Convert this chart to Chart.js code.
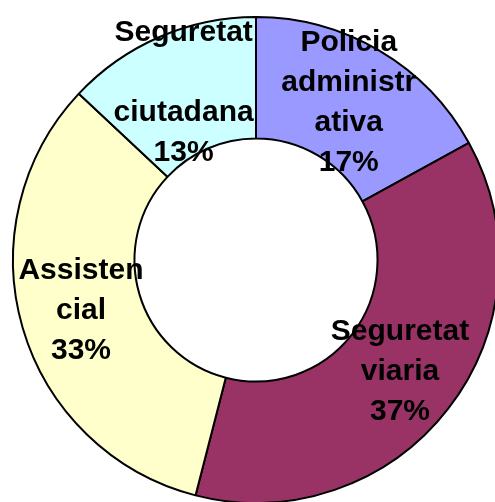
<!DOCTYPE html>
<html>
<head>
<meta charset="utf-8">
<script src="https://cdn.jsdelivr.net/npm/chart.js@4"></script>
<style>
html,body{margin:0;padding:0;background:#fff;overflow:hidden;width:495px;height:502px;}
canvas{display:block;}
</style>
</head>
<body>
<canvas id="c" width="512" height="520" style="width:512px;height:520px"></canvas>
<script>
const categories = ["Policia administrativa", "Seguretat viaria", "Assistencial", "Seguretat ciutadana"];
const values = [17, 37, 33, 13];
const labelLines = [
  ["Policia", "administr", "ativa"],
  ["Seguretat", "viaria"],
  ["Assisten", "cial"],
  ["Seguretat", "", "ciutadana"]
];
const colors = ["#9999FF", "#993366", "#FFFFCC", "#CCFFFF"];

const total = values.reduce((a, b) => a + b, 0);

const labelPlugin = {
  id: 'sliceLabels',
  afterDatasetsDraw(chart) {
    const ctx = chart.ctx;
    const meta = chart.getDatasetMeta(0);
    ctx.save();
    ctx.font = 'bold 30px "Liberation Sans", Arial, sans-serif';
    ctx.fillStyle = '#000';
    ctx.textAlign = 'center';
    ctx.textBaseline = 'middle';
    const lh = 40;
    meta.data.forEach((arc, i) => {
      const p = arc.tooltipPosition();
      const pct = Math.round(values[i] / total * 100) + '%';
      const lines = labelLines[i].concat([pct]);
      const n = lines.length;
      lines.forEach((t, k) => {
        ctx.fillText(t, p.x, p.y + (k - (n - 1) / 2) * lh);
      });
    });
    ctx.restore();
  }
};

new Chart(document.getElementById('c'), {
  type: 'doughnut',
  data: {
    labels: categories,
    datasets: [{
      data: values,
      backgroundColor: colors,
      borderColor: '#000',
      borderWidth: 2,
      borderAlign: 'center'
    }]
  },
  options: {
    responsive: false,
    animation: false,
    cutout: '50%',
    layout: { padding: { left: 12, right: 12, top: 16, bottom: 16 } },
    plugins: { legend: { display: false }, tooltip: { enabled: false } }
  },
  plugins: [labelPlugin]
});
</script>
</body>
</html>
